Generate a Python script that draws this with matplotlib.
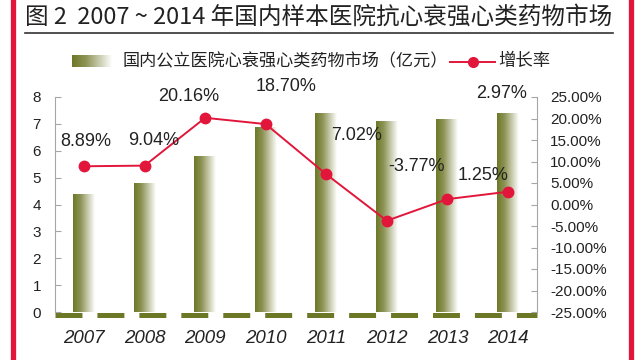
import numpy as np
import matplotlib
matplotlib.use('Agg')
from matplotlib import pyplot as plt
from matplotlib.colors import LinearSegmentedColormap
from matplotlib.lines import Line2D
import matplotlib.transforms as mtransforms

years = ['2007', '2008', '2009', '2010', '2011', '2012', '2013', '2014']
market = [4.4, 4.8, 5.8, 6.9, 7.4, 7.1, 7.2, 7.4]          # 亿元
growth = [8.89, 9.04, 20.16, 18.70, 7.02, -3.77, 1.25, 2.97]  # %

title = '图 2  2007 ~ 2014 年国内样本医院抗心衰强心类药物市场'
bar_name = '国内公立医院心衰强心类药物市场（亿元）'
line_name = '增长率'

# label offsets (pixels) from each point, as in the original
lab_off = [(2, 25), (9, 25), (-16, 21), (20, 38), (30, 39), (30, 54), (36, 24), (-6, 98)]

CJK = ['Noto Sans CJK SC', 'DejaVu Sans']
NUM = 'Liberation Sans'
OLIVE = '#6d7826'
RED = '#e2163a'
GRAY = '#a6a6a6'

plt.rcParams['lines.scale_dashes'] = False
cmap = LinearSegmentedColormap.from_list('olive', [(0, OLIVE), (0.35, '#8e9456'), (1, '#ffffff')])
grad = np.linspace(0, 1, 256).reshape(1, -1)

W, H = 640, 360
fig = plt.figure(figsize=(6.4, 3.6), dpi=100)
ax = fig.add_axes([55 / W, 48 / H, 482 / W, 215 / H])
ax2 = ax.twinx()

x = np.arange(len(years))
w = 0.36

# floor of the 3D chart
floor_tr = mtransforms.offset_copy(ax.transData, fig, y=-2.5, units='dots')
ax.plot([-0.48, 7.48], [0, 0], color=OLIVE, lw=3.6, ls=(0, (19.4, 10.8)),
        solid_capstyle='butt', dash_capstyle='butt', transform=floor_tr, clip_on=False, zorder=1)

bars = ax.bar(x, market, width=w, color='none', edgecolor='none', zorder=2)
for b in bars:
    im = ax.imshow(grad, cmap=cmap, aspect='auto', zorder=2,
                   extent=(b.get_x(), b.get_x() + b.get_width(), 0, b.get_height()))
    im.set_clip_path(b)

ax.set_xlim(-0.48, 7.48)
ax.set_ylim(0, 8)
ax.set_yticks(range(0, 9))
ax.set_xticks(x)
ax.set_xticklabels(years, fontstyle='italic', fontsize=13.5, family=NUM, color='#222')
ax.tick_params(axis='x', length=0, pad=13)
ax.tick_params(axis='y', direction='in', length=4, color=GRAY, labelsize=11, pad=10, labelcolor='#222')
for lab in ax.get_yticklabels():
    lab.set_family(NUM)
for s in ['top', 'bottom', 'right']:
    ax.spines[s].set_visible(False)
ax.spines['left'].set_color(GRAY)
ax.spines['left'].set_linewidth(0.8)

ax2.plot(x, growth, color=RED, lw=1.4, marker='o', ms=7.5, zorder=5)
ax2.set_ylim(-25, 25)
ax2.set_yticks(range(-25, 26, 5))
ax2.set_yticklabels([f'{v:.2f}%' for v in range(-25, 26, 5)], family=NUM, fontsize=11, color='#222')
ax2.tick_params(axis='y', direction='in', length=4, color=GRAY, pad=9.4)
for s in ['top', 'bottom', 'left']:
    ax2.spines[s].set_visible(False)
ax2.spines['right'].set_color(GRAY)
ax2.spines['right'].set_linewidth(0.8)

for i, g in enumerate(growth):
    ax2.annotate(f'{g:.2f}%', (i, g), xytext=lab_off[i], textcoords='offset pixels',
                 ha='center', va='center', family=NUM, fontsize=13, color='#222', zorder=6)

# title, underline, red side borders
fig.text(25 / W, 1 - 17 / H, title, family=CJK, fontsize=17, va='center', ha='left', color='#222')
fig.add_artist(Line2D([25 / W, 613 / W], [1 - 33 / H] * 2, transform=fig.transFigure, color='#333', lw=1.2))
for xb in (12.5, 630.5):
    fig.add_artist(Line2D([xb / W] * 2, [0, 1], transform=fig.transFigure, color=RED, lw=3.8))

# legend
legax = fig.add_axes([72 / W, 1 - 67 / H, 40 / W, 12 / H])
legax.imshow(grad, cmap=cmap, aspect='auto')
legax.axis('off')
fig.text(123 / W, 1 - 61 / H, bar_name, family=CJK, fontsize=12.3, va='center', ha='left', color='#222')
fig.add_artist(Line2D([450 / W, 495 / W], [1 - 62 / H] * 2, transform=fig.transFigure, color=RED, lw=1.4))
fig.add_artist(Line2D([473 / W], [1 - 62 / H], transform=fig.transFigure, color=RED, marker='o', ms=7))
fig.text(498 / W, 1 - 61 / H, line_name, family=CJK, fontsize=12.5, va='center', ha='left', color='#222')

fig.savefig('out.png', dpi=100)
